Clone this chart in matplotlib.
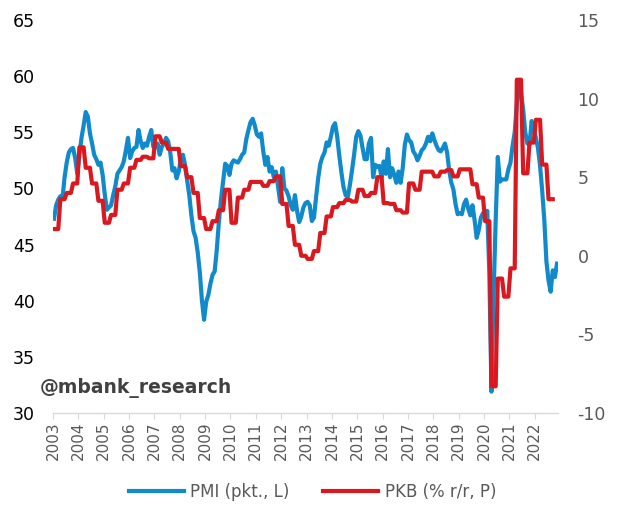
import numpy as np
import matplotlib.pyplot as plt

plt.rcParams['font.family'] = ['DejaVu Sans']
plt.rcParams['axes.unicode_minus'] = False

# PMI przemysłu, miesięcznie (pkt.)
years = list(range(2003, 2023))
pmi_2003 = [47.3, 48.5, 49.0, 49.3, 49.1, 51.0, 52.3, 53.2, 53.5, 53.6, 52.7, 51.3]
pmi_2004 = [53.0, 54.5, 55.6, 56.8, 56.4, 54.9, 54.0, 53.0, 52.6, 52.1, 52.3, 51.2]
pmi_2005 = [49.5, 48.1, 48.3, 48.5, 49.4, 50.2, 51.3, 51.6, 51.9, 52.4, 53.4, 54.5]
pmi_2006 = [52.7, 53.3, 53.6, 53.7, 55.2, 54.2, 53.6, 54.0, 53.8, 54.6, 55.2, 53.7]
pmi_2007 = [53.7, 54.0, 53.0, 53.7, 54.0, 54.5, 54.2, 53.2, 51.6, 51.8, 50.9, 51.5]
pmi_2008 = [52.6, 53.0, 52.1, 50.7, 49.4, 47.6, 46.2, 45.6, 44.3, 42.5, 40.0, 38.3]
pmi_2009 = [39.9, 40.5, 41.5, 42.3, 42.6, 44.5, 47.0, 49.0, 50.6, 52.2, 52.0, 51.2]
pmi_2010 = [52.2, 52.5, 52.4, 52.3, 52.6, 53.0, 53.2, 54.4, 55.2, 55.9, 56.2, 55.6]
pmi_2011 = [54.8, 54.6, 54.9, 53.3, 52.1, 52.8, 51.5, 51.9, 51.0, 51.5, 50.2, 48.8]
pmi_2012 = [51.8, 50.0, 49.8, 49.3, 48.5, 48.1, 49.4, 48.0, 47.0, 47.5, 48.3, 48.7]
pmi_2013 = [48.8, 48.5, 47.1, 47.4, 49.2, 50.9, 52.2, 52.8, 53.2, 54.1, 53.8, 54.6]
pmi_2014 = [55.5, 55.8, 54.6, 52.9, 51.4, 50.1, 49.4, 49.2, 50.3, 51.6, 53.0, 54.6]
pmi_2015 = [55.1, 54.7, 53.6, 52.6, 52.6, 54.0, 54.5, 51.0, 52.1, 51.9, 52.0, 51.0]
pmi_2016 = [52.4, 51.3, 53.5, 51.0, 51.8, 51.2, 50.5, 51.5, 50.5, 51.8, 53.9, 54.8]
pmi_2017 = [54.3, 54.1, 53.3, 53.0, 52.5, 52.9, 53.4, 53.6, 54.0, 54.6, 54.2, 54.9]
pmi_2018 = [54.3, 53.8, 53.4, 53.3, 53.6, 54.0, 53.2, 51.6, 50.5, 49.9, 48.6, 47.7]
pmi_2019 = [47.8, 47.7, 48.6, 49.0, 48.2, 47.6, 48.5, 47.2, 45.6, 46.3, 47.4, 47.8]
pmi_2020 = [47.4, 48.0, 42.4, 31.9, 40.6, 47.2, 52.8, 50.6, 50.8, 50.8, 50.8, 51.7]
pmi_2021 = [52.3, 53.8, 55.0, 57.5, 59.5, 58.5, 57.0, 55.0, 54.0, 53.9, 56.0, 55.4]
pmi_2022 = [54.5, 53.6, 52.0, 49.8, 47.2, 43.5, 41.8, 40.8, 42.7, 42.1, 43.3]

# PKB, % r/r, kwartalnie
gdp_quarterly = [
    1.7, 3.6, 4.0, 4.6,
    6.9, 5.6, 4.6, 3.5,
    2.1, 2.6, 4.2, 4.6,
    5.6, 6.1, 6.3, 6.2,
    7.6, 7.2, 6.8, 6.8,
    5.7, 5.0, 4.0, 2.4,
    1.7, 2.2, 2.9, 4.2,
    2.1, 3.7, 4.2, 4.7,
    4.7, 4.45, 4.75, 5.05,
    3.3, 1.9, 0.7, 0.0,
    -0.2, 0.3, 1.45, 2.5,
    3.1, 3.35, 3.55, 3.45,
    4.2, 3.8, 4.0, 5.0,
    3.35, 3.3, 2.9, 2.75,
    4.6, 4.2, 5.35, 5.35,
    5.05, 5.35, 5.45, 5.05,
    5.5, 5.5, 4.55, 3.7,
    2.2, -8.3, -1.45, -2.6,
    -0.8, 11.2, 5.25, 7.2,
    8.65, 5.8, 3.6,
]

pmi = np.array(pmi_2003 + pmi_2004 + pmi_2005 + pmi_2006 + pmi_2007 + pmi_2008
               + pmi_2009 + pmi_2010 + pmi_2011 + pmi_2012 + pmi_2013 + pmi_2014
               + pmi_2015 + pmi_2016 + pmi_2017 + pmi_2018 + pmi_2019 + pmi_2020
               + pmi_2021 + pmi_2022)
gdp = np.repeat(gdp_quarterly, 3)

months = np.arange(len(pmi)) + 0.5

blue = '#118ACB'
red = '#D9181F'
grey = '#595959'

fig = plt.figure(figsize=(6.21, 5.30), dpi=100)
ax = fig.add_axes([0.0853, 0.2208, 0.8133, 0.7415])
ax2 = ax.twinx()

l1, = ax.plot(months, pmi, color=blue, lw=3, solid_joinstyle='round')
l2, = ax2.plot(months[:len(gdp)], gdp, color=red, lw=3, solid_joinstyle='round')

ax.set_xlim(0, len(pmi))
ax.set_ylim(30, 65)
ax2.set_ylim(-10, 15)
ax.set_yticks(np.arange(30, 66, 5))
ax2.set_yticks(np.arange(-10, 16, 5))
ax.set_xticks(np.arange(0, len(pmi), 12))
ax.set_xticklabels([str(y) for y in years], rotation=90)

for a in (ax, ax2):
    for s in ('top', 'left', 'right'):
        a.spines[s].set_visible(False)
ax2.spines['bottom'].set_visible(False)
ax.spines['bottom'].set_color('#d9d9d9')
ax.spines['bottom'].set_linewidth(1)

ax.tick_params(axis='y', length=0, pad=13, labelsize=12.5, labelcolor='black')
ax.tick_params(axis='x', length=4, color='#d9d9d9', pad=2, labelsize=11, labelcolor=grey)
ax2.tick_params(axis='y', length=0, pad=14, labelsize=12.5, labelcolor=grey)

fig.text(0.064, 0.268, '@mbank_research', fontsize=13.5, fontweight='bold',
         color='#404040', va='center')

fig.legend([l1, l2], ['PMI (pkt., L)', 'PKB (% r/r, P)'], loc='center',
           bbox_to_anchor=(0.503, 0.072), ncol=2, frameon=False, fontsize=12,
           handlelength=3.3, handletextpad=0.4, columnspacing=2.0, labelcolor=grey)

fig.savefig('out.png', dpi=100)
